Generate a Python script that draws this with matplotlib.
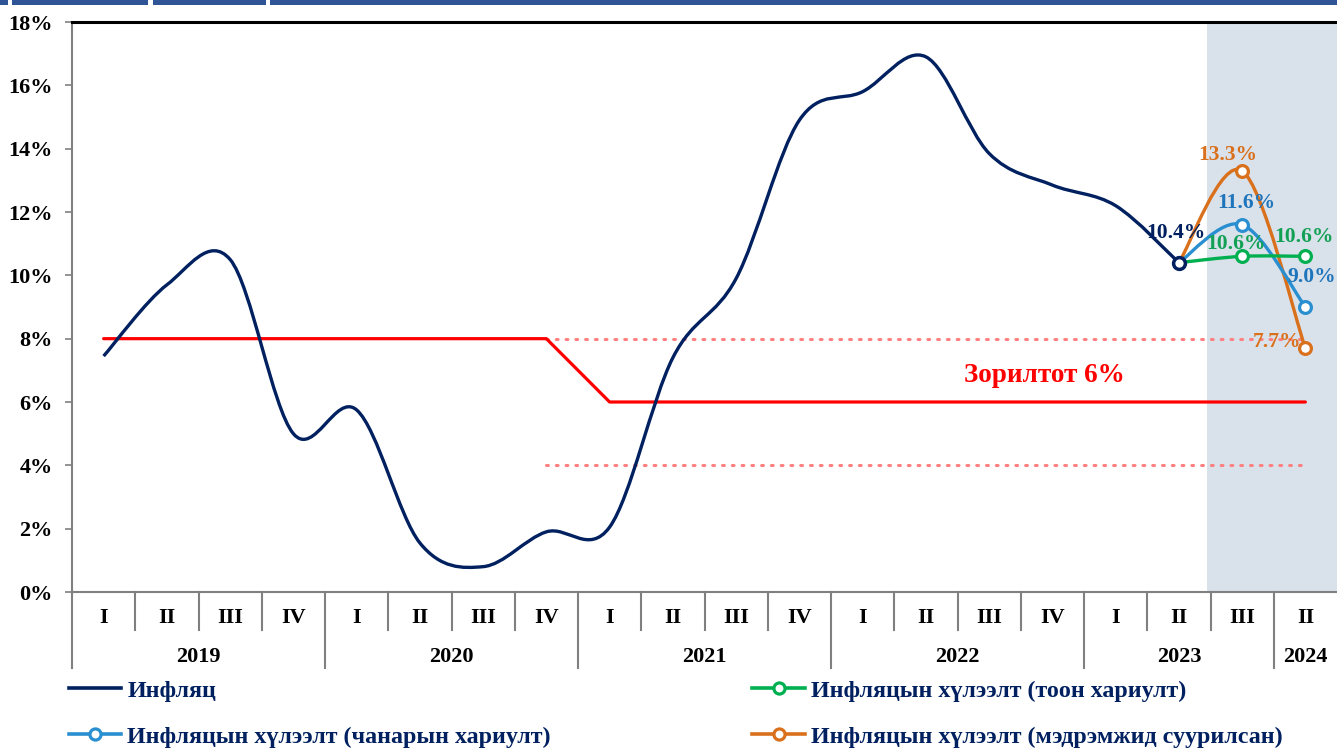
import numpy as np
import matplotlib
matplotlib.use("Agg")
import matplotlib.pyplot as plt
from matplotlib.path import Path
from matplotlib.patches import PathPatch, Rectangle
from matplotlib.lines import Line2D
from matplotlib.ticker import FuncFormatter

# ---------- data ----------
quarters = ["I", "II", "III", "IV"] * 4 + ["I", "II", "III", "II"]
years = ["2019", "2020", "2021", "2022", "2023", "2024"]
year_len = [4, 4, 4, 4, 3, 1]

inflation = [7.45, 9.7, 10.5, 5.0, 5.75, 1.55, 0.8, 1.9, 2.05, 7.4, 9.9,
             14.9, 15.8, 16.9, 13.85, 12.85, 12.2, 10.4]

target = [8, 8, 8, 8, 8, 8, 8, 8, 6, 6, 6, 6, 6, 6, 6, 6, 6, 6, 6, 6]
band_start = 7
band_hi = 8
band_lo = 4

exp_idx = [17, 18, 19]
exp_quant = [10.4, 10.6, 10.6]     # тоон хариулт
exp_qual = [10.4, 11.6, 9.0]       # чанарын хариулт
exp_sent = [10.4, 13.3, 7.7]       # мэдрэмжид суурилсан

NAVY = "#002060"
GREEN = "#00B050"
BLUE = "#2A8FD0"
ORANGE = "#D9701C"
RED = "#FF0000"
PINK = "#FF8080"

plt.rcParams["font.family"] = ["Liberation Serif", "DejaVu Serif"]
plt.rcParams["font.weight"] = "bold"


def smooth_path(xs, ys):
    # linha suavizada tipo excel: bezier cubica, pontos de controle catmull-rom
    pts = list(zip(xs, ys))
    verts = [pts[0]]
    codes = [Path.MOVETO]
    for i in range(len(pts) - 1):
        p0 = pts[i - 1] if i > 0 else pts[i]
        p1 = pts[i]
        p2 = pts[i + 1]
        p3 = pts[i + 2] if i + 2 < len(pts) else p2
        c1 = (p1[0] + (p2[0] - p0[0]) / 6, p1[1] + (p2[1] - p0[1]) / 6)
        c2 = (p2[0] - (p3[0] - p1[0]) / 6, p2[1] - (p3[1] - p1[1]) / 6)
        verts += [c1, c2, p2]
        codes += [Path.CURVE4] * 3
    return Path(verts, codes)


W, H = 1337, 748
fig = plt.figure(figsize=(W / 100, H / 100), dpi=100)
ax = fig.add_axes([72 / W, 1 - 592 / H, 1 - 72 / W, 570 / H])

x = np.arange(len(quarters))
ax.set_xlim(-0.5, len(quarters) - 0.5)
ax.set_ylim(0, 18)

# area de projecao
ax.axvspan(17.45, 19.5, color="#D9E1EA", zorder=0, lw=0)

# meta + banda
ax.plot(x, target, color=RED, lw=2.3, zorder=2, solid_capstyle="round")
xb = x[band_start:]
ax.plot(xb, [band_hi] * len(xb), color=PINK, lw=2.2, ls=(0, (0.6, 2.6)),
        dash_capstyle="round", zorder=1)
ax.plot(xb, [band_lo] * len(xb), color=PINK, lw=2.2, ls=(0, (0.6, 2.6)),
        dash_capstyle="round", zorder=1)
ax.text(14.87, 6.85, "Зорилтот 6%", color=RED, fontsize=19.5,
        ha="center", va="center")

# inflacao
ax.add_patch(PathPatch(smooth_path(x[:len(inflation)], inflation),
                       fill=False, ec=NAVY, lw=2.4, zorder=3))

# expectativas
for vals, col in [(exp_sent, ORANGE), (exp_qual, BLUE), (exp_quant, GREEN)]:
    ax.add_patch(PathPatch(smooth_path(exp_idx, vals), fill=False, ec=col,
                           lw=2.4, zorder=4))
    ax.plot(exp_idx[1:], vals[1:], ls="none", marker="o", ms=8.5, mfc="white",
            mec=col, mew=2.3, zorder=5)
ax.plot([17], [inflation[-1]], ls="none", marker="o", ms=8.5, mfc="white",
        mec=NAVY, mew=2.5, zorder=6)

# rotulos
lab = dict(fontsize=15.5, ha="center", va="center", zorder=7)
ax.text(16.95, 11.35, "10.4%", color=NAVY, **lab)
ax.text(17.77, 13.8, "13.3%", color=ORANGE, **lab)
ax.text(18.06, 12.3, "11.6%", color="#1F75BC", **lab)
ax.text(17.9, 11.0, "10.6%", color="#12A055", **lab)
ax.text(18.97, 11.2, "10.6%", color="#12A055", **lab)
ax.text(19.1, 9.95, "9.0%", color="#1F75BC", **lab)
ax.text(18.55, 7.9, "7.7%", color=ORANGE, **lab)

# eixo y
ax.yaxis.set_major_formatter(FuncFormatter(lambda v, p: f"{v:.0f}%"))
ax.set_yticks(np.arange(0, 19, 2))
ax.tick_params(axis="y", length=5, width=1.2, color="#808080", pad=9,
               labelsize=16)
ax.set_xticks([])
for lbl in ax.get_yticklabels():
    lbl.set_fontweight("bold")

ax.spines["right"].set_visible(False)
ax.spines["top"].set_color("black")
ax.spines["top"].set_linewidth(2.2)
ax.spines["left"].set_color("#808080")
ax.spines["left"].set_linewidth(1.5)
ax.spines["bottom"].set_color("#808080")
ax.spines["bottom"].set_linewidth(1.5)

# eixo de categorias em dois niveis
tr = ax.get_xaxis_transform()
q_low = -38 / 570
y_low = -76 / 570
for i, q in enumerate(quarters):
    ax.text(i, -26 / 570, q, transform=tr, ha="center", va="center",
            fontsize=16, clip_on=False)
ends = np.cumsum(year_len)
starts = ends - np.array(year_len)
for yr, s, e in zip(years, starts, ends):
    ax.text((s + e - 1) / 2, -65 / 570, yr, transform=tr, ha="center",
            va="center", fontsize=16, clip_on=False)
for i in range(len(quarters) - 1):
    bottom = y_low if (i + 1) in ends else q_low
    ax.add_line(Line2D([i + 0.5, i + 0.5], [0, bottom], transform=tr,
                       color="#808080", lw=1.5, clip_on=False))
ax.add_line(Line2D([-0.5, -0.5], [0, y_low], transform=tr, color="#808080",
                   lw=1.5, clip_on=False))

# legenda
handles = [
    Line2D([], [], color=NAVY, lw=2.6),
    Line2D([], [], color=BLUE, lw=2.6, marker="o", ms=8, mfc="white", mec=BLUE, mew=2.3),
    Line2D([], [], color=GREEN, lw=2.6, marker="o", ms=8, mfc="white", mec=GREEN, mew=2.3),
    Line2D([], [], color=ORANGE, lw=2.6, marker="o", ms=8, mfc="white", mec=ORANGE, mew=2.3),
]
labels = [
    "Инфляц",
    "Инфляцын хүлээлт (чанарын хариулт)",
    "Инфляцын хүлээлт (тоон хариулт)",
    "Инфляцын хүлээлт (мэдрэмжид суурилсан)",
]
ax.legend(handles, labels, ncol=2, loc="upper left",
          bbox_to_anchor=(69 / W, 1 - 680 / H), bbox_transform=fig.transFigure,
          frameon=False, prop={"size": 17.3, "weight": "bold"}, labelcolor=NAVY,
          handlelength=2.17, handletextpad=0.25, columnspacing=8.4,
          labelspacing=1.0, borderpad=0, borderaxespad=0)

# faixa azul do cabecalho (tabela cortada)
for x0, x1 in [(0, 8), (12, 148), (153, 266), (270, W)]:
    fig.add_artist(Rectangle((x0 / W, 1 - 5 / H), (x1 - x0) / W, 5 / H,
                             transform=fig.transFigure, color="#2F5597", lw=0))

fig.savefig("out.png", dpi=100)
